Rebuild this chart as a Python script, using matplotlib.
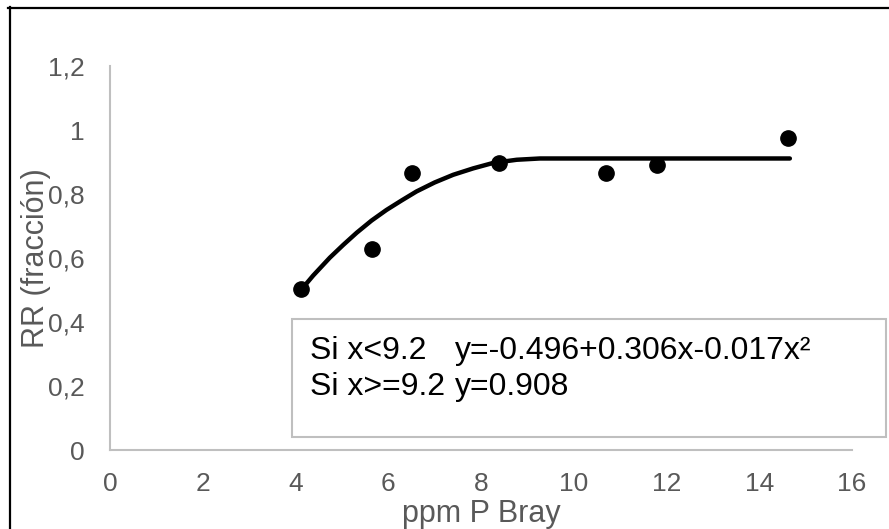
import matplotlib
matplotlib.use("Agg")
import matplotlib.pyplot as plt
from matplotlib.lines import Line2D
from matplotlib.patches import Rectangle

plt.rcParams['font.family'] = ['Liberation Sans', 'DejaVu Sans']

# datos observados (ppm P Bray vs RR)
ppm = [4.12, 5.65, 6.52, 8.39, 10.69, 11.80, 14.62]
rr = [0.502, 0.628, 0.865, 0.896, 0.867, 0.891, 0.974]

# curva ajustada (cuadratico-plateau)
curva_x = [4.13, 4.38, 4.74, 5.03, 5.32, 5.64, 5.96, 6.29, 6.61, 7.00,
           7.40, 7.83, 8.26, 8.77, 9.27, 14.66]
curva_y = [0.502, 0.545, 0.601, 0.641, 0.679, 0.717, 0.750, 0.780, 0.808, 0.836,
           0.860, 0.880, 0.897, 0.907, 0.911, 0.911]

xticks = [0, 2, 4, 6, 8, 10, 12, 14, 16]
yticks = [0, 0.2, 0.4, 0.6, 0.8, 1.0, 1.2]
ytick_labels = ['0', '0,2', '0,4', '0,6', '0,8', '1', '1,2']

gris = '#595959'
gris_claro = '#bfbfbf'

fig = plt.figure(figsize=(8.89, 5.29), dpi=100)
ax = fig.add_axes([110 / 889, 1 - 450 / 529, 742 / 889, 384 / 529])

ax.plot(curva_x, curva_y, color='black', linewidth=3.2, solid_capstyle='round',
        solid_joinstyle='round', zorder=2)
ax.plot(ppm, rr, 'o', color='black', markersize=11, zorder=3)

ax.set_xlim(0, 16)
ax.set_ylim(0, 1.2)
ax.set_xticks(xticks)
ax.set_xticklabels([str(t) for t in xticks])
ax.set_yticks(yticks)
ax.set_yticklabels(ytick_labels)

for lado in ['top', 'right']:
    ax.spines[lado].set_visible(False)
for lado in ['left', 'bottom']:
    ax.spines[lado].set_color(gris_claro)
    ax.spines[lado].set_linewidth(1.5)

ax.tick_params(axis='x', length=0, pad=16, labelsize=19, labelcolor=gris)
ax.tick_params(axis='y', length=0, pad=18, labelsize=19, labelcolor=gris)

ax.set_xlabel('ppm P Bray', fontsize=22, color=gris, labelpad=2)
ax.set_ylabel('RR (fracción)', fontsize=22, color=gris)
ax.yaxis.set_label_coords(-0.080, 0.5)

# recuadro con la ecuacion
fig.patches.append(Rectangle((292 / 889, 1 - 437 / 529), 594 / 889, 118 / 529,
                             transform=fig.transFigure, fill=False,
                             edgecolor=gris_claro, linewidth=1.5))
fig.text(310.5 / 889, 1 - 359 / 529, 'Si x<9.2', fontsize=23, color='black')
fig.text(454.5 / 889, 1 - 359 / 529, 'y=-0.496+0.306x-0.017x²', fontsize=23, color='black')
fig.text(310.5 / 889, 1 - 395 / 529, 'Si x>=9.2', fontsize=23, color='black')
fig.text(454.5 / 889, 1 - 395 / 529, 'y=0.908', fontsize=23, color='black')

# marco negro arriba e izquierda
fig.add_artist(Line2D([8 / 889, 1], [1 - 7.5 / 529, 1 - 7.5 / 529],
                      transform=fig.transFigure, color='black', linewidth=1.6))
fig.add_artist(Line2D([9.5 / 889, 9.5 / 889], [0, 1 - 7 / 529],
                      transform=fig.transFigure, color='black', linewidth=1.6))

fig.savefig('out.png', dpi=100)
